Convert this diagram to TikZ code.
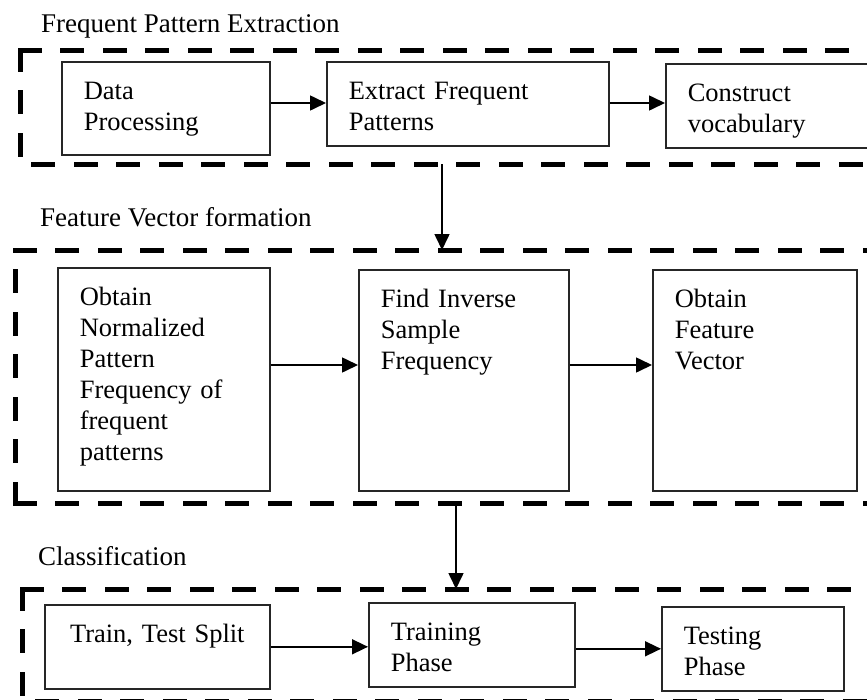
\documentclass[tikz,border=0pt]{standalone}
\usepackage{fontspec}
\setmainfont{Liberation Serif}
\usetikzlibrary{arrows.meta}
\newcommand{\stagefont}{\fontsize{26.5}{31}\selectfont}

\begin{document}
\begin{tikzpicture}[
      x=1pt, y=-1pt,
      stage/.style={draw=black!85, line width=1.6pt, anchor=north west, align=left, inner xsep=22pt, inner ysep=20pt, text height=18pt, font=\stagefont},
      group/.style={anchor=north west, inner sep=0pt, outer sep=0pt, minimum width=900pt},
      frame/.style={line width=5pt, line cap=rect, dash pattern=on 19pt off 23.5pt},
      title/.style={anchor=base west, inner sep=0pt, font=\fontsize{27}{31}\selectfont},
      arr/.style={-{Triangle[length=16pt, width=15pt]}, line width=1.6pt}
    ]
      \useasboundingbox (0,0) rectangle (867,699);
      \clip (0,0) rectangle (867,699);

      % dashed group frames
      \node[group, minimum height=114pt] (grpA) at (20,50) {};
      \node[group, minimum height=253pt] (grpB) at (15,250) {};
      \node[group, minimum height=112pt] (grpC) at (22,589) {};
      \draw[frame] (grpA.north west) -- (grpA.north east);
      \draw[frame] (grpA.north west) -- (grpA.south west) -- (grpA.south east);
      \draw[frame] (grpB.north west) -- (grpB.north east);
      \draw[frame] (grpB.south west) -- (grpB.north west);
      \draw[frame] (grpB.south west) -- (grpB.south east);
      \draw[frame] (grpC.north west) -- (grpC.north east);
      \draw[frame] (grpC.north west) -- (grpC.south west) -- (grpC.south east);

      \node[title] (ttlA) at (41,32) {Frequent Pattern Extraction};
      \node[title] (ttlB) at (40,226) {Feature Vector formation};
      \node[title] (ttlC) at (38,565) {Classification};

      % first row
      \node[stage, text width=164pt, text depth=35pt] (proc) at (61,61) {Data\\Processing};
      \node[stage, text width=238pt, text depth=26pt] (extract) at (326,61) {Extract Frequent\\Patterns};
      \node[stage, text width=206pt, text depth=26pt] (construct) at (665,63) {Construct\\vocabulary};

      % second row
      \node[stage, text width=168pt, text depth=165pt] (norm) at (57,267) {Obtain\\Normalized\\Pattern\\Frequency of\\frequent\\patterns};
      \node[stage, text width=166pt, text depth=163pt] (isf) at (358,269) {Find Inverse\\Sample\\Frequency};
      \node[stage, text width=160pt, text depth=163pt] (featvec) at (652,269) {Obtain\\Feature\\Vector};

      % third row
      \node[stage, align=center, text width=181pt, text depth=26pt] (split) at (44,604) {Train, Test Split};
      \node[stage, text width=162pt, text depth=26pt] (train) at (368,602) {Training\\Phase};
      \node[stage, text width=138pt, text depth=26pt] (test) at (661,606) {Testing\\Phase};

      \coordinate (rowA) at (0,103);
      \coordinate (rowB) at (0,365);
      \coordinate (drop1) at (442,0);
      \coordinate (drop2) at (456,0);

      \draw[arr] (proc.east |- rowA) -- (extract.west |- rowA);
      \draw[arr] (extract.east |- rowA) -- (construct.west |- rowA);
      \draw[arr] (norm.east |- rowB) -- (isf.west |- rowB);
      \draw[arr] (isf.east |- rowB) -- (featvec.west |- rowB);
      \draw[arr] (split.east) -- (split.east -| train.west);
      \draw[arr] (test.west -| train.east) -- (test.west);

      \draw[arr] (grpA.south -| drop1) -- (grpB.north -| drop1);
      \draw[arr] (grpB.south -| drop2) -- (grpC.north -| drop2);
    \end{tikzpicture}
\end{document}
